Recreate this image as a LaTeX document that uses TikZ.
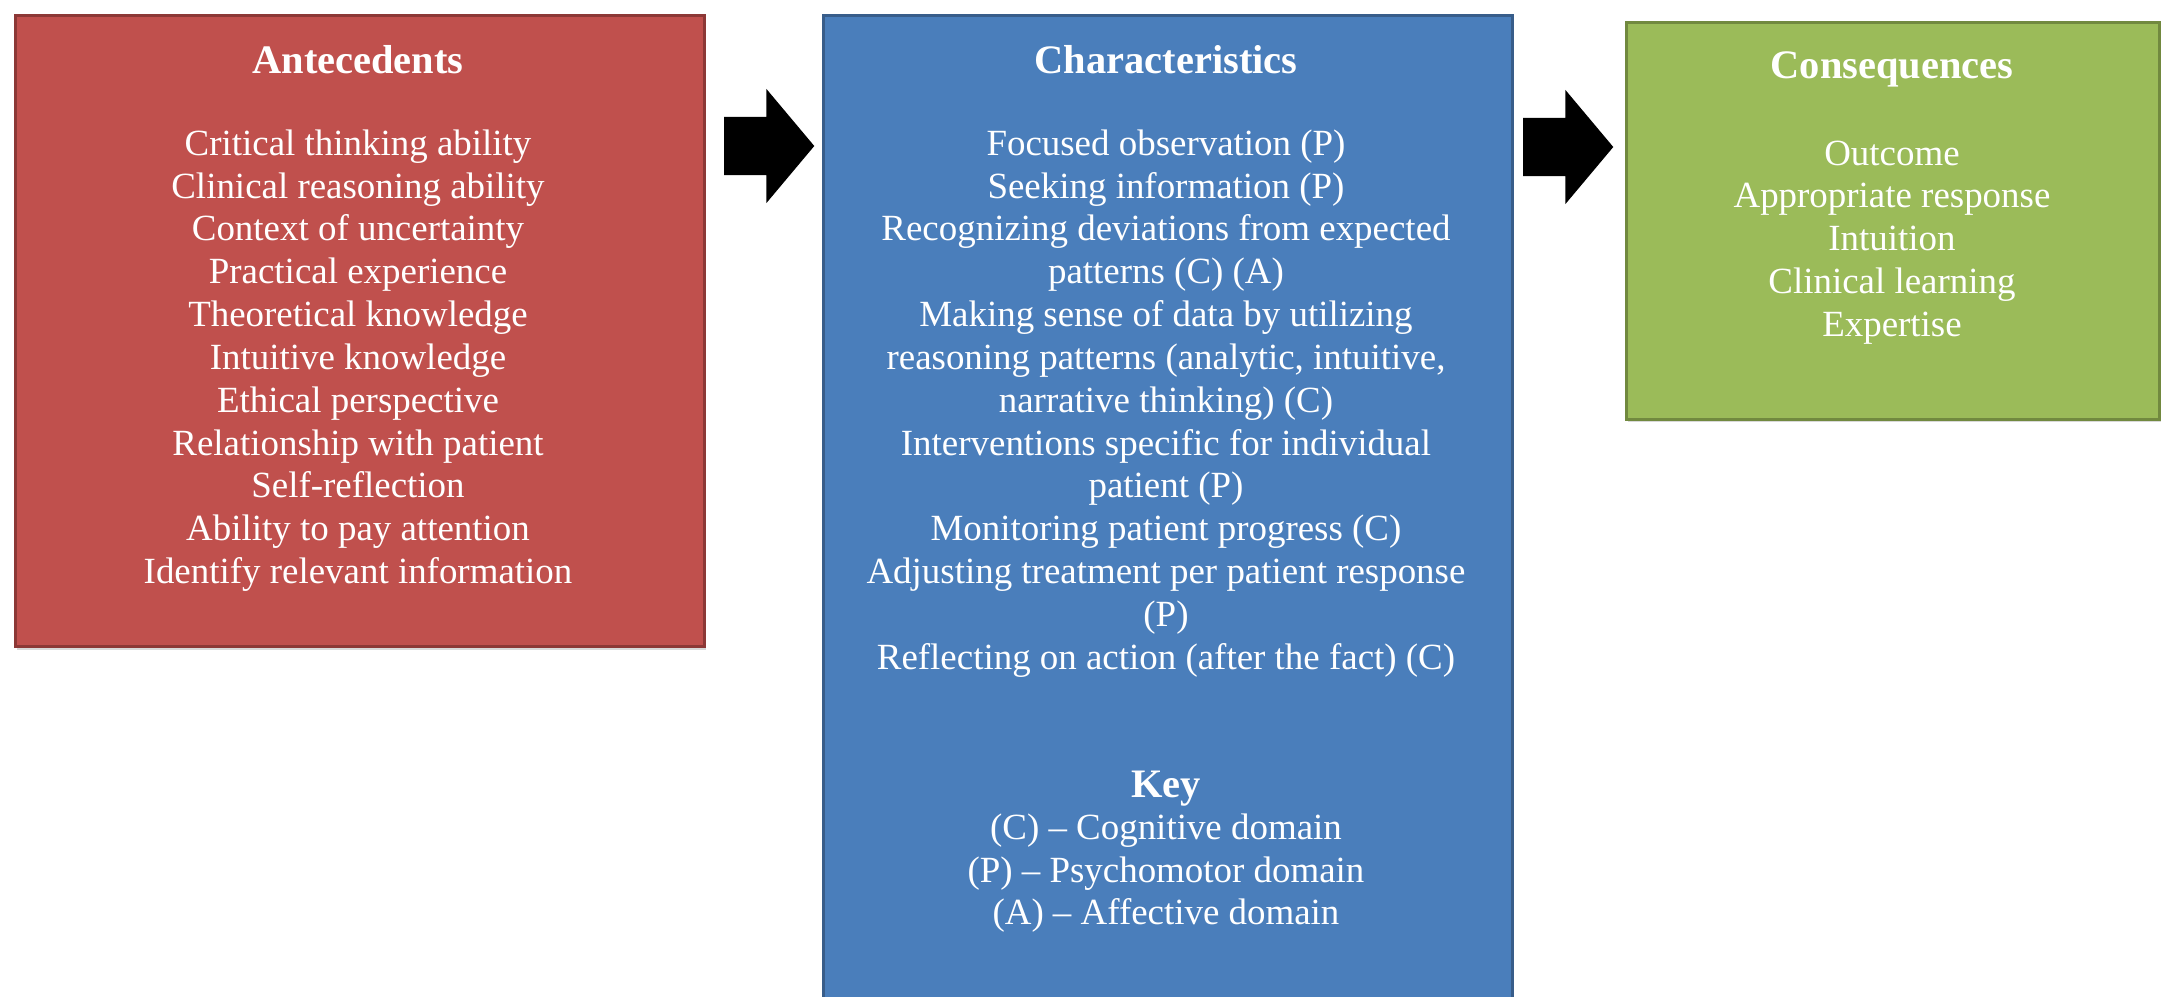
\documentclass[tikz,border=0pt]{standalone}
\usepackage{fontspec}
\setmainfont{Liberation Serif}
\usetikzlibrary{positioning,shapes.arrows,shadows}
\definecolor{antfill}{HTML}{C0504D}
\definecolor{antline}{HTML}{8C3836}
\definecolor{charfill}{HTML}{4A7EBB}
\definecolor{charline}{HTML}{385D8A}
\definecolor{consfill}{HTML}{9BBB59}
\definecolor{consline}{HTML}{71893F}

\begin{document}
\begin{tikzpicture}[x=0.01cm,y=-0.01cm,
    panel/.style={draw,line width=0.8pt,inner sep=0,anchor=north west,
      drop shadow={shadow xshift=0.4pt,shadow yshift=-0.8pt,opacity=0.3}},
    head/.style={text=white,font=\fontsize{11.5}{13}\selectfont\bfseries,anchor=north,inner sep=0},
    items/.style={text=white,font=\fontsize{10.5}{12.18}\selectfont,align=center,anchor=north,inner sep=0},
    flow/.style={single arrow,fill=black,inner xsep=0,inner ysep=0.285cm,minimum height=0.9cm,
      single arrow head extend=0.28cm,single arrow tip angle=100}]
  \useasboundingbox (0,0) rectangle (2165,997);

  % the three panels
  \node[panel,fill=antfill,draw=antline,minimum width=6.89cm,minimum height=6.31cm] (antecedents) at (14,14) {};
  \node[panel,fill=charfill,draw=charline,minimum width=6.89cm,minimum height=9.95cm] (characteristics) at (822,14) {};
  \node[panel,fill=consfill,draw=consline,minimum width=5.33cm,minimum height=3.97cm] (consequences) at (1625,21) {};

  % block arrows between panels
  \node[flow] (flowA) at (757,146) {};
  \node[flow] (flowB) at (1556,147) {};

  % antecedents
  \node[head] (antTitle) at (358,45) {Antecedents};
  \node[items] (antList) at (358,129) {Critical thinking ability\\
    Clinical reasoning ability\\
    Context of uncertainty\\
    Practical experience\\
    Theoretical knowledge\\
    Intuitive knowledge\\
    Ethical perspective\\
    Relationship with patient\\
    Self-reflection\\
    Ability to pay attention\\
    Identify relevant information};

  % characteristics
  \node[head] (charTitle) at (1166,45) {Characteristics};
  \node[items] (charList) at (1166,129) {Focused observation (P)\\
    Seeking information (P)\\
    Recognizing deviations from expected\\
    patterns (C) (A)\\
    Making sense of data by utilizing\\
    reasoning patterns (analytic, intuitive,\\
    narrative thinking) (C)\\
    Interventions specific for individual\\
    patient (P)\\
    Monitoring patient progress (C)\\
    Adjusting treatment per patient response\\
    (P)\\
    Reflecting on action (after the fact) (C)};
  \node[head] (keyTitle) at (1166,770) {Key};
  \node[items] (keyList) at (1166,813) {(C) – Cognitive domain\\
    (P) – Psychomotor domain\\
    (A) – Affective domain};

  % consequences
  \node[head] (consTitle) at (1892,51) {Consequences};
  \node[items] (consList) at (1892,140) {Outcome\\
    Appropriate response\\
    Intuition\\
    Clinical learning\\
    Expertise};
\end{tikzpicture}
\end{document}
